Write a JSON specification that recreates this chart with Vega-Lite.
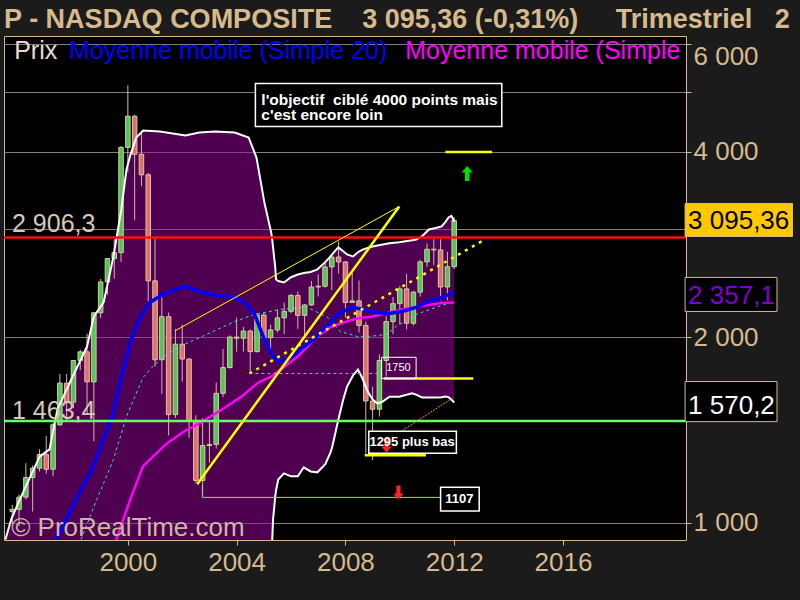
{
"$schema":"https://vega.github.io/schema/vega-lite/v6.json",
"width":682,"height":504,
"autosize":{"type":"none"},
"padding":{"left":4,"top":36,"right":114,"bottom":60},
"background":"#1b1b1b",
"config":{"view":{"fill":"#000000","stroke":"#d6b98c","strokeWidth":1},"font":"Liberation Sans"},
"datasets":{
"candles":[
{"t":1995.75,"o":1043,"h":1070,"l":1000,"c":1052},
{"t":1996.0,"o":1052,"h":1111,"l":988,"c":1101},
{"t":1996.25,"o":1101,"h":1250,"l":1091,"c":1185},
{"t":1996.5,"o":1185,"h":1240,"l":1043,"c":1227},
{"t":1996.75,"o":1227,"h":1317,"l":1212,"c":1291},
{"t":1997.0,"o":1291,"h":1384,"l":1202,"c":1222},
{"t":1997.25,"o":1222,"h":1453,"l":1190,"c":1443},
{"t":1997.5,"o":1443,"h":1745,"l":1437,"c":1686},
{"t":1997.75,"o":1686,"h":1745,"l":1465,"c":1570},
{"t":1998.0,"o":1570,"h":1835,"l":1536,"c":1835},
{"t":1998.25,"o":1835,"h":1910,"l":1770,"c":1895},
{"t":1998.5,"o":1895,"h":2028,"l":1499,"c":1694},
{"t":1998.75,"o":1694,"h":2200,"l":1357,"c":2193},
{"t":1999.0,"o":2193,"h":2488,"l":2150,"c":2461},
{"t":1999.25,"o":2461,"h":2690,"l":2345,"c":2686},
{"t":1999.5,"o":2686,"h":2887,"l":2490,"c":2746},
{"t":1999.75,"o":2746,"h":4090,"l":2652,"c":4069},
{"t":2000.0,"o":4069,"h":5132,"l":3711,"c":4573},
{"t":2000.25,"o":4573,"h":4600,"l":3100,"c":3966},
{"t":2000.5,"o":3966,"h":4289,"l":3521,"c":3673},
{"t":2000.75,"o":3673,"h":3700,"l":2289,"c":2471},
{"t":2001.0,"o":2471,"h":2892,"l":1794,"c":1840},
{"t":2001.25,"o":1840,"h":2328,"l":1620,"c":2161},
{"t":2001.5,"o":2161,"h":2195,"l":1387,"c":1499},
{"t":2001.75,"o":1499,"h":2065,"l":1480,"c":1950},
{"t":2002.0,"o":1950,"h":2098,"l":1696,"c":1845},
{"t":2002.25,"o":1845,"h":1848,"l":1375,"c":1463},
{"t":2002.5,"o":1463,"h":1495,"l":1160,"c":1172},
{"t":2002.75,"o":1172,"h":1478,"l":1108,"c":1335},
{"t":2003.0,"o":1335,"h":1467,"l":1253,"c":1341},
{"t":2003.25,"o":1341,"h":1690,"l":1320,"c":1623},
{"t":2003.5,"o":1623,"h":1916,"l":1600,"c":1787},
{"t":2003.75,"o":1787,"h":2015,"l":1780,"c":2003},
{"t":2004.0,"o":2003,"h":2154,"l":1896,"c":1994},
{"t":2004.25,"o":1994,"h":2080,"l":1897,"c":2048},
{"t":2004.5,"o":2048,"h":2061,"l":1750,"c":1897},
{"t":2004.75,"o":1897,"h":2191,"l":1890,"c":2175},
{"t":2005.0,"o":2175,"h":2191,"l":1970,"c":1999},
{"t":2005.25,"o":1999,"h":2098,"l":1890,"c":2057},
{"t":2005.5,"o":2057,"h":2220,"l":2037,"c":2152},
{"t":2005.75,"o":2152,"h":2278,"l":2025,"c":2205},
{"t":2006.0,"o":2205,"h":2353,"l":2189,"c":2340},
{"t":2006.25,"o":2340,"h":2375,"l":2065,"c":2172},
{"t":2006.5,"o":2172,"h":2265,"l":2012,"c":2258},
{"t":2006.75,"o":2258,"h":2470,"l":2250,"c":2415},
{"t":2007.0,"o":2415,"h":2531,"l":2331,"c":2422},
{"t":2007.25,"o":2422,"h":2640,"l":2410,"c":2603},
{"t":2007.5,"o":2603,"h":2724,"l":2387,"c":2701},
{"t":2007.75,"o":2701,"h":2861,"l":2539,"c":2652},
{"t":2008.0,"o":2652,"h":2661,"l":2155,"c":2279},
{"t":2008.25,"o":2279,"h":2552,"l":2278,"c":2293},
{"t":2008.5,"o":2293,"h":2474,"l":2038,"c":2092},
{"t":2008.75,"o":2092,"h":2122,"l":1295,"c":1577},
{"t":2009.0,"o":1577,"h":1664,"l":1265,"c":1529},
{"t":2009.25,"o":1529,"h":1878,"l":1488,"c":1835},
{"t":2009.5,"o":1835,"h":2168,"l":1727,"c":2122},
{"t":2009.75,"o":2122,"h":2326,"l":2024,"c":2269},
{"t":2010.0,"o":2269,"h":2423,"l":2100,"c":2398},
{"t":2010.25,"o":2398,"h":2535,"l":2061,"c":2109},
{"t":2010.5,"o":2109,"h":2380,"l":2091,"c":2369},
{"t":2010.75,"o":2369,"h":2675,"l":2330,"c":2653},
{"t":2011.0,"o":2653,"h":2841,"l":2603,"c":2781},
{"t":2011.25,"o":2781,"h":2888,"l":2619,"c":2774},
{"t":2011.5,"o":2774,"h":2887,"l":2298,"c":2415},
{"t":2011.75,"o":2415,"h":2754,"l":2298,"c":2605},
{"t":2012.0,"o":2605,"h":3134,"l":2580,"c":3095}
],
"bands":[
{"t":1995.5,"up":940,"lo":700},{"t":1995.71,"up":1013,"lo":700},{"t":1996.03,"up":1092,"lo":700},{"t":1996.76,"up":1282,"lo":700},
{"t":1997.12,"up":1316,"lo":700},{"t":1997.41,"up":1528,"lo":700},{"t":1997.92,"up":1709,"lo":700},{"t":1998.5,"up":1934,"lo":700},
{"t":1998.75,"up":2163,"lo":700},{"t":1999.11,"up":2280,"lo":700},{"t":1999.47,"up":2707,"lo":700},{"t":1999.76,"up":3227,"lo":700},
{"t":1999.95,"up":3747,"lo":700},{"t":2000.09,"up":3950,"lo":700},{"t":2000.31,"up":4223,"lo":700},{"t":2000.56,"up":4335,"lo":700},
{"t":2001.18,"up":4318,"lo":700},{"t":2002.12,"up":4254,"lo":700},{"t":2002.63,"up":4302,"lo":700},{"t":2003.21,"up":4318,"lo":700},
{"t":2003.93,"up":4302,"lo":700},{"t":2004.44,"up":4223,"lo":700},{"t":2004.73,"up":3918,"lo":700},{"t":2005.02,"up":3313,"lo":700},
{"t":2005.27,"up":2961,"lo":700},{"t":2005.31,"up":2880,"lo":940},{"t":2005.34,"up":2800,"lo":1013},{"t":2005.42,"up":2600,"lo":1104},
{"t":2005.45,"up":2484,"lo":1130},{"t":2005.53,"up":2470,"lo":1176},{"t":2005.74,"up":2456,"lo":1203},{"t":2006.0,"up":2505,"lo":1190},
{"t":2006.25,"up":2530,"lo":1190},{"t":2006.47,"up":2545,"lo":1231},{"t":2006.72,"up":2555,"lo":1212},{"t":2006.97,"up":2580,"lo":1208},
{"t":2007.26,"up":2650,"lo":1245},{"t":2007.45,"up":2707,"lo":1300},{"t":2007.52,"up":2730,"lo":1331},{"t":2007.7,"up":2790,"lo":1444},
{"t":2007.74,"up":2800,"lo":1470},{"t":2007.92,"up":2760,"lo":1586},{"t":2008.06,"up":2727,"lo":1664},{"t":2008.24,"up":2710,"lo":1722},
{"t":2008.28,"up":2707,"lo":1735},{"t":2008.46,"up":2750,"lo":1774},{"t":2008.61,"up":2775,"lo":1722},{"t":2008.82,"up":2795,"lo":1634},
{"t":2009.0,"up":2810,"lo":1586},{"t":2009.18,"up":2820,"lo":1562},{"t":2009.37,"up":2830,"lo":1574},{"t":2009.62,"up":2845,"lo":1603},
{"t":2009.98,"up":2855,"lo":1603},{"t":2010.45,"up":2875,"lo":1623},{"t":2010.6,"up":2884,"lo":1615},{"t":2010.82,"up":2920,"lo":1598},
{"t":2011.07,"up":2994,"lo":1598},{"t":2011.32,"up":3010,"lo":1598},{"t":2011.54,"up":3028,"lo":1600},{"t":2011.68,"up":3080,"lo":1603},
{"t":2011.79,"up":3132,"lo":1600},{"t":2011.9,"up":3150,"lo":1585},{"t":2012.0,"up":3085,"lo":1568}
],
"sma20":[
{"t":1997.35,"v":920},{"t":1997.41,"v":947},{"t":1998.28,"v":1134},{"t":1998.68,"v":1220},{"t":1999.11,"v":1366},{"t":1999.47,"v":1511},
{"t":1999.76,"v":1728},{"t":2000.09,"v":1963},{"t":2000.31,"v":2084},{"t":2000.56,"v":2196},{"t":2000.82,"v":2280},{"t":2001.29,"v":2349},
{"t":2001.76,"v":2393},{"t":2002.12,"v":2420},{"t":2002.63,"v":2375},{"t":2003.21,"v":2339},{"t":2003.82,"v":2331},{"t":2004.29,"v":2280},
{"t":2004.66,"v":2180},{"t":2005.02,"v":1985},{"t":2005.34,"v":1862},{"t":2005.63,"v":1828},{"t":2005.89,"v":1843},{"t":2006.25,"v":1898},
{"t":2006.83,"v":1985},{"t":2007.45,"v":2115},{"t":2007.81,"v":2196},{"t":2008.28,"v":2238},{"t":2008.64,"v":2221},{"t":2009.15,"v":2196},
{"t":2009.62,"v":2188},{"t":2010.09,"v":2204},{"t":2010.6,"v":2238},{"t":2011.07,"v":2288},{"t":2011.54,"v":2322},{"t":2012.0,"v":2366}
],
"sma50":[
{"t":1999.55,"v":920},{"t":1999.58,"v":940},{"t":2000.09,"v":1092},{"t":2000.56,"v":1236},{"t":2001.39,"v":1341},{"t":2002.01,"v":1402},
{"t":2002.74,"v":1460},{"t":2003.46,"v":1528},{"t":2004.18,"v":1603},{"t":2004.8,"v":1690},{"t":2005.27,"v":1728},{"t":2005.63,"v":1774},
{"t":2006.25,"v":1862},{"t":2006.97,"v":2008},{"t":2007.45,"v":2076},{"t":2007.92,"v":2115},{"t":2008.42,"v":2146},{"t":2009.0,"v":2163},
{"t":2009.62,"v":2196},{"t":2010.09,"v":2221},{"t":2010.82,"v":2250},{"t":2011.54,"v":2275},{"t":2012.0,"v":2280}
],
"mid":[
{"t":1998.22,"v":920},{"t":1998.28,"v":940},{"t":1998.86,"v":1092},{"t":1999.47,"v":1267},{"t":1999.95,"v":1488},{"t":2000.56,"v":1722},
{"t":2000.92,"v":1794},{"t":2001.29,"v":1857},{"t":2001.9,"v":1934},{"t":2002.74,"v":2008},{"t":2003.93,"v":2123},{"t":2004.66,"v":2180},
{"t":2005.63,"v":2221},{"t":2006.61,"v":2238},{"t":2007.34,"v":2155},{"t":2007.81,"v":2045},{"t":2008.42,"v":2008},{"t":2008.89,"v":2008},
{"t":2009.51,"v":2022},{"t":2009.87,"v":2084},{"t":2010.6,"v":2180},{"t":2011.32,"v":2238},{"t":2012.0,"v":2288}
],
"levels":[{"k":"red","v":2906.3},{"k":"green","v":1463.4}],
"segs":[
{"k":"thin","t":2001.76,"t2":2009.98,"v":2053,"v2":3263},
{"k":"thick","t":2002.55,"t2":2009.98,"v":1155,"v2":3263},
{"k":"dot","t":2004.47,"t2":2013.13,"v":1748,"v2":2884},
{"k":"cyan","t":2004.47,"t2":2009.33,"v":1748,"v2":1748},
{"k":"yel","t":2009.41,"t2":2012.7,"v":1716,"v2":1716},
{"k":"yel","t":2008.71,"t2":2010.96,"v":1287,"v2":1287},
{"k":"yel","t":2011.68,"t2":2013.39,"v":4000,"v2":4000},
{"k":"grn","t":2002.74,"t2":2011.72,"v":1100,"v2":1100},
{"k":"grn","t":2002.74,"t2":2002.74,"v":1150,"v2":1100},
{"k":"orange","t":2008.91,"t2":2011.97,"v":1306,"v2":1598}
],
"boxes":[
{"k":"white","t":2004.69,"t2":2013.75,"v":5166,"v2":4400},
{"k":"clear","t":2009.33,"t2":2010.6,"v":1857,"v2":1716},
{"k":"white","t":2008.86,"t2":2012.08,"v":1408,"v2":1297},
{"k":"white","t":2011.5,"t2":2012.92,"v":1142,"v2":1045},
{"k":"gold","t":2020.49,"t2":2024.44,"v":3300,"v2":2917},
{"k":"tan","t":2020.49,"t2":2023.87,"v":2503,"v2":2204},
{"k":"tan","t":2020.49,"t2":2023.87,"v":1696,"v2":1460}
],
"texts":[
{"k":"title","t":1995.45,"v":6370,"txt":"P - NASDAQ COMPOSITE\u00a0\u00a0\u00a0 3 095,36 (-0,31%)\u00a0\u00a0\u00a0\u00a0 Trimestriel\u00a0\u00a0 2"},
{"k":"prix","t":1995.82,"v":5672,"txt":"Prix"},
{"k":"blue","t":1997.84,"v":5672,"txt":"Moyenne mobile (Simple 20)"},
{"k":"mag","t":2010.2,"v":5672,"txt":"Moyenne mobile (Simple"},
{"k":"note","t":2004.91,"v":4777,"txt":"l'objectif\u00a0 ciblé 4000 points mais"},
{"k":"note","t":2004.91,"v":4500,"txt":"c'est encore loin"},
{"k":"small","t":2009.95,"v":1781,"txt":"1750"},
{"k":"bold","t":2010.45,"v":1351,"txt":"1295 plus bas"},
{"k":"bold","t":2012.19,"v":1092,"txt":"1107"},
{"k":"lvl","t":1995.74,"v":2971,"txt":"2 906,3"},
{"k":"lvl","t":1995.74,"v":1472,"txt":"1 463,4"},
{"k":"wm","t":1995.71,"v":951,"txt":"© ProRealTime.com"},
{"k":"rblack","t":2020.6,"v":2994,"txt":"3 095,36"},
{"k":"rpurple","t":2020.6,"v":2263,"txt":"2 357,1"},
{"k":"rwhite","t":2020.6,"v":1500,"txt":"1 570,2"}
],
"arrows":[
{"k":"up","t":2012.48,"v":3691},
{"k":"down","t":2009.51,"v":1336},
{"k":"down","t":2009.95,"v":1120}
]
},
"layer":[
{"data":{"name":"bands"},"mark":{"type":"area","fill":"#a000a0","fillOpacity":0.5,"clip":true},
 "encoding":{
  "x":{"field":"t","type":"quantitative","title":null,"scale":{"domain":[1995.63,2020.34],"nice":false,"zero":false},
   "axis":{"values":[2000,2004,2008,2012,2016],"format":"d","labelFontSize":26,"labelColor":"#d6b98c","labelFont":"Liberation Sans","tickColor":"#d6b98c","tickSize":5,"domain":false,"grid":false,"labelPadding":4,"labelFlush":false,"labelOverlap":false,"title":null}},
  "y":{"field":"up","type":"quantitative","title":null,"scale":{"type":"log","domain":[938,6171],"nice":false},
   "axis":{"orient":"right","values":[1000,2000,3000,4000,5000,6000],"labelExpr":"(datum.value==3000||datum.value==5000) ? '' : replace(format(datum.value, ','), ',', ' ')","labelFontSize":26,"labelColor":"#d6b98c","labelFont":"Liberation Sans","tickColor":"#d6b98c","tickSize":5,"domain":false,"grid":true,"gridColor":"#7f7f7f","gridWidth":1,"labelPadding":2,"labelOverlap":false,"labelFlush":10,"labelFlushOffset":0,"labelBound":false,"title":null}},
  "y2":{"field":"lo"}}},
{"data":{"name":"candles"},"mark":{"type":"rule","color":"#cdbd9f","strokeWidth":1,"clip":true},
 "encoding":{"x":{"field":"t","type":"quantitative","title":null,"scale":{"domain":[1995.63,2020.34],"nice":false,"zero":false}},
  "y":{"field":"l","type":"quantitative","title":null,"scale":{"type":"log","domain":[938,6171],"nice":false}},"y2":{"field":"h"}}},
{"data":{"name":"candles"},"mark":{"type":"bar","width":4.5,"stroke":"#d8c8a8","strokeWidth":1,"clip":true},
 "encoding":{"x":{"field":"t","type":"quantitative","title":null,"scale":{"domain":[1995.63,2020.34],"nice":false,"zero":false}},
  "y":{"field":"o","type":"quantitative","title":null,"scale":{"type":"log","domain":[938,6171],"nice":false}},"y2":{"field":"c"},
  "color":{"condition":{"test":"datum.c>=datum.o","value":"#4ec94e"},"value":"#e0706a"}}},
{"data":{"name":"bands"},"mark":{"type":"line","color":"#ffffff","strokeWidth":2,"clip":true},
 "encoding":{"x":{"field":"t","type":"quantitative","title":null,"scale":{"domain":[1995.63,2020.34],"nice":false,"zero":false}},
  "y":{"field":"up","type":"quantitative","title":null,"scale":{"type":"log","domain":[938,6171],"nice":false}}}},
{"data":{"name":"bands"},"mark":{"type":"line","color":"#ffffff","strokeWidth":2,"clip":true},
 "encoding":{"x":{"field":"t","type":"quantitative","title":null,"scale":{"domain":[1995.63,2020.34],"nice":false,"zero":false}},
  "y":{"field":"lo","type":"quantitative","title":null,"scale":{"type":"log","domain":[938,6171],"nice":false}}}},
{"data":{"name":"mid"},"mark":{"type":"line","color":"#3cdcdc","strokeWidth":1,"strokeDash":[3,3],"clip":true},
 "encoding":{"x":{"field":"t","type":"quantitative","title":null,"scale":{"domain":[1995.63,2020.34],"nice":false,"zero":false}},
  "y":{"field":"v","type":"quantitative","title":null,"scale":{"type":"log","domain":[938,6171],"nice":false}}}},
{"data":{"name":"sma50"},"mark":{"type":"line","color":"#ff00ff","strokeWidth":2.5,"clip":true},
 "encoding":{"x":{"field":"t","type":"quantitative","title":null,"scale":{"domain":[1995.63,2020.34],"nice":false,"zero":false}},
  "y":{"field":"v","type":"quantitative","title":null,"scale":{"type":"log","domain":[938,6171],"nice":false}}}},
{"data":{"name":"sma20"},"mark":{"type":"line","color":"#0000ff","strokeWidth":3.5,"clip":true},
 "encoding":{"x":{"field":"t","type":"quantitative","title":null,"scale":{"domain":[1995.63,2020.34],"nice":false,"zero":false}},
  "y":{"field":"v","type":"quantitative","title":null,"scale":{"type":"log","domain":[938,6171],"nice":false}}}},
{"data":{"name":"levels"},"transform":[{"filter":"datum.k=='red'"}],"mark":{"type":"rule","color":"#ff1010","strokeWidth":2.5},
 "encoding":{"y":{"field":"v","type":"quantitative","title":null,"scale":{"type":"log","domain":[938,6171],"nice":false}}}},
{"data":{"name":"levels"},"transform":[{"filter":"datum.k=='green'"}],"mark":{"type":"rule","color":"#66ff66","strokeWidth":2.5},
 "encoding":{"y":{"field":"v","type":"quantitative","title":null,"scale":{"type":"log","domain":[938,6171],"nice":false}}}},
{"data":{"name":"segs"},"transform":[{"filter":"datum.k=='thin'"}],"mark":{"type":"rule","color":"#ffff00","strokeWidth":1},
 "encoding":{"x":{"field":"t","type":"quantitative","title":null,"scale":{"domain":[1995.63,2020.34],"nice":false,"zero":false}},"x2":{"field":"t2"},
  "y":{"field":"v","type":"quantitative","title":null,"scale":{"type":"log","domain":[938,6171],"nice":false}},"y2":{"field":"v2"}}},
{"data":{"name":"segs"},"transform":[{"filter":"datum.k=='thick' || datum.k=='yel'"}],"mark":{"type":"rule","color":"#ffff00","strokeWidth":2.5},
 "encoding":{"x":{"field":"t","type":"quantitative","title":null,"scale":{"domain":[1995.63,2020.34],"nice":false,"zero":false}},"x2":{"field":"t2"},
  "y":{"field":"v","type":"quantitative","title":null,"scale":{"type":"log","domain":[938,6171],"nice":false}},"y2":{"field":"v2"}}},
{"data":{"name":"segs"},"transform":[{"filter":"datum.k=='dot'"}],"mark":{"type":"rule","color":"#ffff00","strokeWidth":2.5,"strokeDash":[3,5]},
 "encoding":{"x":{"field":"t","type":"quantitative","title":null,"scale":{"domain":[1995.63,2020.34],"nice":false,"zero":false}},"x2":{"field":"t2"},
  "y":{"field":"v","type":"quantitative","title":null,"scale":{"type":"log","domain":[938,6171],"nice":false}},"y2":{"field":"v2"}}},
{"data":{"name":"segs"},"transform":[{"filter":"datum.k=='cyan'"}],"mark":{"type":"rule","color":"#3cdcdc","strokeWidth":1,"strokeDash":[3,3]},
 "encoding":{"x":{"field":"t","type":"quantitative","title":null,"scale":{"domain":[1995.63,2020.34],"nice":false,"zero":false}},"x2":{"field":"t2"},
  "y":{"field":"v","type":"quantitative","title":null,"scale":{"type":"log","domain":[938,6171],"nice":false}},"y2":{"field":"v2"}}},
{"data":{"name":"segs"},"transform":[{"filter":"datum.k=='grn'"}],"mark":{"type":"rule","color":"#8ee08e","strokeWidth":1},
 "encoding":{"x":{"field":"t","type":"quantitative","title":null,"scale":{"domain":[1995.63,2020.34],"nice":false,"zero":false}},"x2":{"field":"t2"},
  "y":{"field":"v","type":"quantitative","title":null,"scale":{"type":"log","domain":[938,6171],"nice":false}},"y2":{"field":"v2"}}},
{"data":{"name":"segs"},"transform":[{"filter":"datum.k=='orange'"}],"mark":{"type":"rule","color":"#ff8c00","strokeWidth":1,"strokeDash":[2,1]},
 "encoding":{"x":{"field":"t","type":"quantitative","title":null,"scale":{"domain":[1995.63,2020.34],"nice":false,"zero":false}},"x2":{"field":"t2"},
  "y":{"field":"v","type":"quantitative","title":null,"scale":{"type":"log","domain":[938,6171],"nice":false}},"y2":{"field":"v2"}}},
{"data":{"name":"boxes"},"transform":[{"filter":"datum.k=='white'"}],"mark":{"type":"rect","fill":"#000000","stroke":"#ffffff","strokeWidth":1.5},
 "encoding":{"x":{"field":"t","type":"quantitative","title":null,"scale":{"domain":[1995.63,2020.34],"nice":false,"zero":false}},"x2":{"field":"t2"},
  "y":{"field":"v","type":"quantitative","title":null,"scale":{"type":"log","domain":[938,6171],"nice":false}},"y2":{"field":"v2"}}},
{"data":{"name":"boxes"},"transform":[{"filter":"datum.k=='clear'"}],"mark":{"type":"rect","fill":null,"fillOpacity":0,"stroke":"#ffffff","strokeWidth":1},
 "encoding":{"x":{"field":"t","type":"quantitative","title":null,"scale":{"domain":[1995.63,2020.34],"nice":false,"zero":false}},"x2":{"field":"t2"},
  "y":{"field":"v","type":"quantitative","title":null,"scale":{"type":"log","domain":[938,6171],"nice":false}},"y2":{"field":"v2"}}},
{"data":{"name":"boxes"},"transform":[{"filter":"datum.k=='gold'"}],"mark":{"type":"rect","fill":"#ffc800","stroke":"#d6b98c","strokeWidth":1},
 "encoding":{"x":{"field":"t","type":"quantitative","title":null,"scale":{"domain":[1995.63,2020.34],"nice":false,"zero":false}},"x2":{"field":"t2"},
  "y":{"field":"v","type":"quantitative","title":null,"scale":{"type":"log","domain":[938,6171],"nice":false}},"y2":{"field":"v2"}}},
{"data":{"name":"boxes"},"transform":[{"filter":"datum.k=='tan'"}],"mark":{"type":"rect","fill":"#000000","stroke":"#d6b98c","strokeWidth":1},
 "encoding":{"x":{"field":"t","type":"quantitative","title":null,"scale":{"domain":[1995.63,2020.34],"nice":false,"zero":false}},"x2":{"field":"t2"},
  "y":{"field":"v","type":"quantitative","title":null,"scale":{"type":"log","domain":[938,6171],"nice":false}},"y2":{"field":"v2"}}},
{"data":{"name":"arrows"},"transform":[{"filter":"datum.k=='up'"}],"mark":{"type":"point","filled":true,"color":"#00e000","opacity":1,"size":225,"shape":"M0,-1L0.75,-0.15L0.3,-0.15L0.3,1L-0.3,1L-0.3,-0.15L-0.75,-0.15Z"},
 "encoding":{"x":{"field":"t","type":"quantitative","title":null,"scale":{"domain":[1995.63,2020.34],"nice":false,"zero":false}},
  "y":{"field":"v","type":"quantitative","title":null,"scale":{"type":"log","domain":[938,6171],"nice":false}}}},
{"data":{"name":"arrows"},"transform":[{"filter":"datum.k=='down'"}],"mark":{"type":"point","filled":true,"color":"#ff2020","opacity":1,"size":196,"shape":"M0,1L0.75,0.15L0.3,0.15L0.3,-1L-0.3,-1L-0.3,0.15L-0.75,0.15Z"},
 "encoding":{"x":{"field":"t","type":"quantitative","title":null,"scale":{"domain":[1995.63,2020.34],"nice":false,"zero":false}},
  "y":{"field":"v","type":"quantitative","title":null,"scale":{"type":"log","domain":[938,6171],"nice":false}}}},
{"data":{"name":"texts"},"transform":[{"filter":"datum.k=='title'"}],"mark":{"type":"text","align":"left","baseline":"alphabetic","fontSize":27,"fontWeight":"bold","color":"#d6b98c","font":"Liberation Sans"},
 "encoding":{"x":{"field":"t","type":"quantitative","title":null,"scale":{"domain":[1995.63,2020.34],"nice":false,"zero":false}},
  "y":{"field":"v","type":"quantitative","title":null,"scale":{"type":"log","domain":[938,6171],"nice":false}},"text":{"field":"txt"}}},
{"data":{"name":"texts"},"transform":[{"filter":"datum.k=='prix'"}],"mark":{"type":"text","align":"left","baseline":"alphabetic","fontSize":25,"color":"#e6dccb","font":"Liberation Sans"},
 "encoding":{"x":{"field":"t","type":"quantitative","title":null,"scale":{"domain":[1995.63,2020.34],"nice":false,"zero":false}},
  "y":{"field":"v","type":"quantitative","title":null,"scale":{"type":"log","domain":[938,6171],"nice":false}},"text":{"field":"txt"}}},
{"data":{"name":"texts"},"transform":[{"filter":"datum.k=='blue'"}],"mark":{"type":"text","align":"left","baseline":"alphabetic","fontSize":25,"color":"#0000ff","font":"Liberation Sans"},
 "encoding":{"x":{"field":"t","type":"quantitative","title":null,"scale":{"domain":[1995.63,2020.34],"nice":false,"zero":false}},
  "y":{"field":"v","type":"quantitative","title":null,"scale":{"type":"log","domain":[938,6171],"nice":false}},"text":{"field":"txt"}}},
{"data":{"name":"texts"},"transform":[{"filter":"datum.k=='mag'"}],"mark":{"type":"text","align":"left","baseline":"alphabetic","fontSize":25,"color":"#ff00ff","font":"Liberation Sans","clip":true},
 "encoding":{"x":{"field":"t","type":"quantitative","title":null,"scale":{"domain":[1995.63,2020.34],"nice":false,"zero":false}},
  "y":{"field":"v","type":"quantitative","title":null,"scale":{"type":"log","domain":[938,6171],"nice":false}},"text":{"field":"txt"}}},
{"data":{"name":"texts"},"transform":[{"filter":"datum.k=='note'"}],"mark":{"type":"text","align":"left","baseline":"alphabetic","fontSize":15.5,"fontWeight":"bold","color":"#ffffff","font":"Liberation Sans"},
 "encoding":{"x":{"field":"t","type":"quantitative","title":null,"scale":{"domain":[1995.63,2020.34],"nice":false,"zero":false}},
  "y":{"field":"v","type":"quantitative","title":null,"scale":{"type":"log","domain":[938,6171],"nice":false}},"text":{"field":"txt"}}},
{"data":{"name":"texts"},"transform":[{"filter":"datum.k=='small'"}],"mark":{"type":"text","align":"center","baseline":"middle","fontSize":11,"color":"#ffffff","font":"Liberation Sans"},
 "encoding":{"x":{"field":"t","type":"quantitative","title":null,"scale":{"domain":[1995.63,2020.34],"nice":false,"zero":false}},
  "y":{"field":"v","type":"quantitative","title":null,"scale":{"type":"log","domain":[938,6171],"nice":false}},"text":{"field":"txt"}}},
{"data":{"name":"texts"},"transform":[{"filter":"datum.k=='bold'"}],"mark":{"type":"text","align":"center","baseline":"middle","fontSize":13,"fontWeight":"bold","color":"#ffffff","font":"Liberation Sans"},
 "encoding":{"x":{"field":"t","type":"quantitative","title":null,"scale":{"domain":[1995.63,2020.34],"nice":false,"zero":false}},
  "y":{"field":"v","type":"quantitative","title":null,"scale":{"type":"log","domain":[938,6171],"nice":false}},"text":{"field":"txt"}}},
{"data":{"name":"texts"},"transform":[{"filter":"datum.k=='lvl'"}],"mark":{"type":"text","align":"left","baseline":"alphabetic","fontSize":25,"color":"#d5c9b5","font":"Liberation Sans"},
 "encoding":{"x":{"field":"t","type":"quantitative","title":null,"scale":{"domain":[1995.63,2020.34],"nice":false,"zero":false}},
  "y":{"field":"v","type":"quantitative","title":null,"scale":{"type":"log","domain":[938,6171],"nice":false}},"text":{"field":"txt"}}},
{"data":{"name":"texts"},"transform":[{"filter":"datum.k=='wm'"}],"mark":{"type":"text","align":"left","baseline":"alphabetic","fontSize":26,"color":"#c9b9a3","font":"Liberation Sans"},
 "encoding":{"x":{"field":"t","type":"quantitative","title":null,"scale":{"domain":[1995.63,2020.34],"nice":false,"zero":false}},
  "y":{"field":"v","type":"quantitative","title":null,"scale":{"type":"log","domain":[938,6171],"nice":false}},"text":{"field":"txt"}}},
{"data":{"name":"texts"},"transform":[{"filter":"datum.k=='rblack'"}],"mark":{"type":"text","align":"left","baseline":"alphabetic","fontSize":26,"color":"#000000","font":"Liberation Sans"},
 "encoding":{"x":{"field":"t","type":"quantitative","title":null,"scale":{"domain":[1995.63,2020.34],"nice":false,"zero":false}},
  "y":{"field":"v","type":"quantitative","title":null,"scale":{"type":"log","domain":[938,6171],"nice":false}},"text":{"field":"txt"}}},
{"data":{"name":"texts"},"transform":[{"filter":"datum.k=='rpurple'"}],"mark":{"type":"text","align":"left","baseline":"alphabetic","fontSize":26,"color":"#8000d0","font":"Liberation Sans"},
 "encoding":{"x":{"field":"t","type":"quantitative","title":null,"scale":{"domain":[1995.63,2020.34],"nice":false,"zero":false}},
  "y":{"field":"v","type":"quantitative","title":null,"scale":{"type":"log","domain":[938,6171],"nice":false}},"text":{"field":"txt"}}},
{"data":{"name":"texts"},"transform":[{"filter":"datum.k=='rwhite'"}],"mark":{"type":"text","align":"left","baseline":"alphabetic","fontSize":26,"color":"#ffffff","font":"Liberation Sans"},
 "encoding":{"x":{"field":"t","type":"quantitative","title":null,"scale":{"domain":[1995.63,2020.34],"nice":false,"zero":false}},
  "y":{"field":"v","type":"quantitative","title":null,"scale":{"type":"log","domain":[938,6171],"nice":false}},"text":{"field":"txt"}}}
]
}
